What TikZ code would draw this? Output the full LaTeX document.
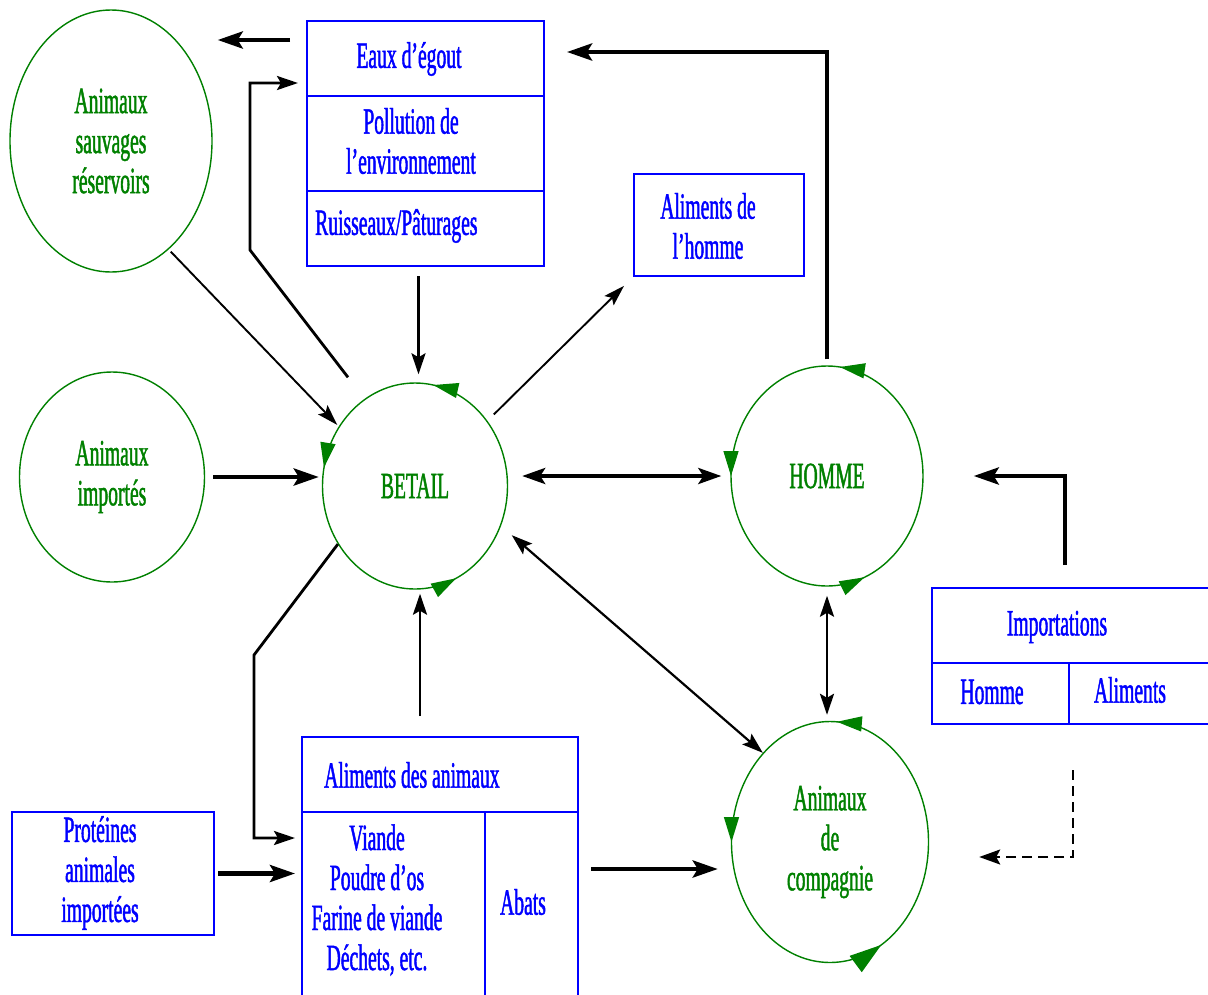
\documentclass[tikz,border=0pt]{standalone}
\usepackage{fontspec}
\setmainfont{Liberation Serif}[FakeStretch=0.53,FakeBold=1.2]
\usetikzlibrary{arrows.meta,shapes.geometric,decorations.markings}
\colorlet{zonegreen}{green!50!black}
\colorlet{boxblue}{blue}
\tikzset{
  greentip/.tip={Triangle[length=25pt,width=15pt]},
  bigtip/.tip={Triangle[length=32pt,width=20pt]},
  zone/.style={ellipse, draw=zonegreen, text=zonegreen, line width=1.4pt, align=center, inner sep=0pt},
  spin/.style n args={4}{postaction={decorate, decoration={markings,
      mark=at position #1 with {\arrow[zonegreen]{greentip}},
      mark=at position #2 with {\arrow[zonegreen]{greentip}},
      mark=at position #3 with {\arrow[zonegreen]{#4}}}}},
  box/.style={rectangle, draw=boxblue, line width=2.2pt, inner sep=0pt, outer sep=0pt, anchor=north west},
  rule/.style={draw=boxblue, line width=2.2pt},
  boxtext/.style={text=boxblue, align=center, inner sep=0pt},
  heavyarrow/.style={line width=4.5pt, -{Stealth[length=25pt,width=17pt,inset=5pt]}},
  midarrow/.style={line width=2.8pt, -{Stealth[length=21pt,width=14pt,inset=4pt]}},
  thinarrow/.style={line width=1.9pt, -{Stealth[length=21pt,width=13pt,inset=4pt]}},
  twinarrow/.style={line width=3.8pt, {Stealth[length=23pt,width=16pt,inset=5pt]}-{Stealth[length=23pt,width=16pt,inset=5pt]}},
  midtwin/.style={line width=2.8pt, {Stealth[length=21pt,width=14pt,inset=4pt]}-{Stealth[length=21pt,width=14pt,inset=4pt]}},
  thintwin/.style={line width=2.2pt, {Stealth[length=21pt,width=14pt,inset=4pt]}-{Stealth[length=21pt,width=14pt,inset=4pt]}},
  dasharrow/.style={line width=2.2pt, dash pattern=on 10pt off 6pt, -{Stealth[length=21pt,width=15pt,inset=4pt]}}
}
\begin{document}
\begin{tikzpicture}[x=1pt, y=-1pt, font=\fontsize{37}{40}\selectfont]
\useasboundingbox (0,0) rectangle (1208,994);

\node[zone, minimum width=202pt, minimum height=262pt] (sauvages) at (111,141) {Animaux\\sauvages\\réservoirs};
\node[zone, minimum width=185pt, minimum height=210pt] (importes) at (112,477) {Animaux\\importés};
\node[zone, spin={0.22}{0.47}{0.82}{greentip}, minimum width=185pt, minimum height=206pt] (betail) at (415,486) {BETAIL};
\node[zone, spin={0.23}{0.5}{0.81}{greentip}, minimum width=192pt, minimum height=220pt] (homme) at (827,476) {HOMME};
\node[zone, spin={0.24}{0.5}{0.83}{bigtip}, minimum width=197pt, minimum height=241pt] (compagnie) at (830,842) {Animaux\\de\\compagnie};

\node[box, minimum width=237pt, minimum height=245pt] (egout) at (307,21) {};
\node[box, minimum width=170pt, minimum height=102pt] (alhomme) at (634,174) {};
\node[box, minimum width=282pt, minimum height=136pt] (imports) at (932,588) {};
\node[box, minimum width=276pt, minimum height=260pt] (alanimaux) at (302,737) {};
\node[box, minimum width=202pt, minimum height=123pt] (proteines) at (12,812) {};

\draw[rule]
	(egout.west |- 0,96) -- (egout.east |- 0,96)
	(egout.west |- 0,191) -- (egout.east |- 0,191)
	(imports.west |- 0,663) -- (imports.east |- 0,663)
	(1069,663) -- (imports.south -| 1069,0)
	(alanimaux.west |- 0,812) -- (alanimaux.east |- 0,812)
	(485,812) -- (alanimaux.south -| 485,0);

\node[boxtext] (eaux) at (409,59) {Eaux d'égout};
\node[boxtext] (pollution) at (411,141) {Pollution de\\l'environnement};
\node[boxtext, anchor=west] (ruisseaux) at (315,226) {Ruisseaux/Pâturages};
\node[boxtext] (alhommetext) at (708,226) {Aliments de\\l'homme};
\node[boxtext] (importations) at (1057,627) {Importations};
\node[boxtext] (hommeimp) at (992,692) {Homme};
\node[boxtext] (alimentsimp) at (1130,690) {Aliments};
\node[boxtext, anchor=west] (alanimtext) at (324,775) {Aliments des animaux};
\node[boxtext] (viande) at (377,900) {Viande\\Poudre d'os\\Farine de viande\\Déchets, etc.};
\node[boxtext] (abats) at (523,902) {Abats};
\node[boxtext] (protetext) at (100,873) {Protéines\\animales\\importées};

\coordinate (upbend) at (250,250);
\coordinate (lowbend) at (254,655);
\coordinate (drop) at ([xshift=-7pt]egout.south);
\coordinate (feed) at ([xshift=5pt]betail.south);
\coordinate (petfeed) at ([yshift=-2pt]alanimaux.east);

\draw[heavyarrow, shorten <=17pt, shorten >=5pt] (egout.west |- 0,40) -- (sauvages.east |- 0,40);
\draw[heavyarrow, shorten <=6pt, shorten >=23pt] (homme.north) |- (egout.east |- 0,52);
\draw[midarrow, shorten >=9pt] ([xshift=-67pt,yshift=5pt]betail.north) -- (upbend) |- (egout.west |- 0,83);
\draw[thinarrow, shorten <=3pt, shorten >=2pt] (sauvages.-62) -- (betail.142);
\draw[midarrow, shorten <=10pt, shorten >=8pt] (drop) -- (drop |- betail.north);
\draw[thinarrow, shorten <=9pt, shorten >=14pt] (betail.42) -- (alhomme.south west);
\draw[heavyarrow, shorten <=8pt, shorten >=3pt] (importes.east) -- (importes.east -| betail.west);
\draw[twinarrow, shorten <=14pt, shorten >=9pt] (homme.west -| betail.east) -- (homme.west);
\draw[midarrow, shorten >=7pt] (betail.217) -- (lowbend) |- (alanimaux.west |- 0,838);
\draw[midarrow, shorten <=21pt, shorten >=4pt] (feed |- alanimaux.north) -- (feed);
\draw[thintwin] ([shift={(12pt,-6pt)}]betail.-27) -- (compagnie.127);
\draw[midtwin, shorten <=9pt, shorten >=6pt] (homme.south) -- (homme.south |- compagnie.north);
\draw[heavyarrow, shorten <=4pt, shorten >=7pt] (proteines.east) -- (proteines.east -| alanimaux.west);
\draw[heavyarrow, shorten <=13pt, shorten >=13pt] (petfeed) -- (petfeed -| compagnie.west);
\draw[heavyarrow, shorten <=23pt, shorten >=50pt] ([xshift=-8pt]imports.north) |- (homme.east);
\draw[dasharrow, shorten <=46pt, shorten >=50pt] (imports.south) |- ([yshift=-15pt]compagnie.east);
\end{tikzpicture}
\end{document}
